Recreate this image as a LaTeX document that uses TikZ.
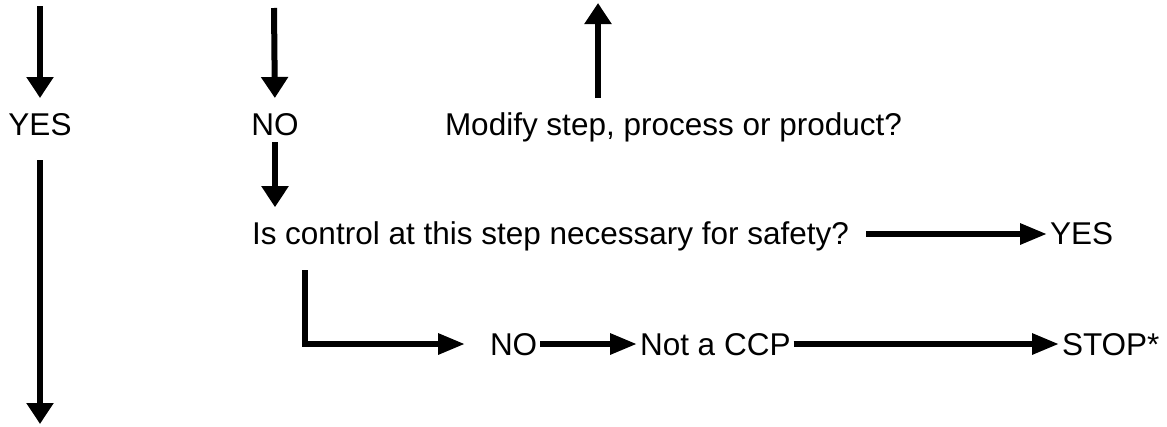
\documentclass[tikz,border=0pt]{standalone}
\usepackage{fontspec}
\setmainfont{Liberation Sans}
\usepackage{tikz}
\usetikzlibrary{arrows.meta}

\begin{document}
\begin{tikzpicture}[x=1pt, y=-1pt,
	font=\fontsize{31.5}{36}\selectfont,
	lbl/.style={inner sep=0pt, outer sep=0pt},
	wire/.style={line width=6pt},
	arrv/.style={wire, -{Triangle[length=21pt, width=26pt]}},
	arrh/.style={wire, -{Triangle[length=27pt, width=20pt]}}]
	\useasboundingbox (0, 0) rectangle (1167, 426);
	% Paths, nodes and wires:
	\coordinate (T1) at (40, 6);
	\coordinate (T2) at (274, 8);
	\coordinate (T3) at (598, 3);
	\coordinate (B1) at (40, 424);
	\node[lbl, anchor=base](Y1) at (40, 135){YES};
	\node[lbl, anchor=base](N1) at (275, 135){NO};
	\node[lbl, anchor=base west](M1) at (445, 135){Modify step, process or product?};
	\node[lbl, anchor=base west](Q1) at (252, 244){Is control at this step necessary for safety?};
	\node[lbl, anchor=base west](Y2) at (1050, 244){YES};
	\node[lbl, anchor=base west](N2) at (490, 355){NO};
	\node[lbl, anchor=base west](C1) at (640, 355){Not a CCP};
	\node[lbl, anchor=base west](S1) at (1062, 355){STOP*};
	\coordinate (L1) at ([xshift=53pt, yshift=-26pt]Q1.base west);
	\draw[arrv, shorten >=15pt] (T1) -- (Y1.north);
	\draw[arrv, shorten <=25pt] (Y1.south) -- (B1);
	\draw[arrv, shorten >=15pt] (T2) -- (N1.north);
	\draw[arrv, shorten <=7pt, shorten >=14pt] (N1.south) -- (N1.south |- Q1.north);
	\draw[arrv, shorten <=14pt] (T3 |- M1.north) -- (T3);
	\draw[arrh, shorten <=17pt, shorten >=3pt] ([yshift=10pt]Q1.base east) -- ([yshift=10pt]Y2.base west);
	\draw[arrh, shorten >=25pt] (L1) |- ([yshift=11pt]N2.base west);
	\draw[arrh, shorten <=3pt, shorten >=3pt] ([yshift=11pt]N2.base east) -- ([yshift=11pt]C1.base west);
	\draw[arrh, shorten <=3pt, shorten >=3pt] ([yshift=11pt]C1.base east) -- ([yshift=11pt]S1.base west);
\end{tikzpicture}
\end{document}
